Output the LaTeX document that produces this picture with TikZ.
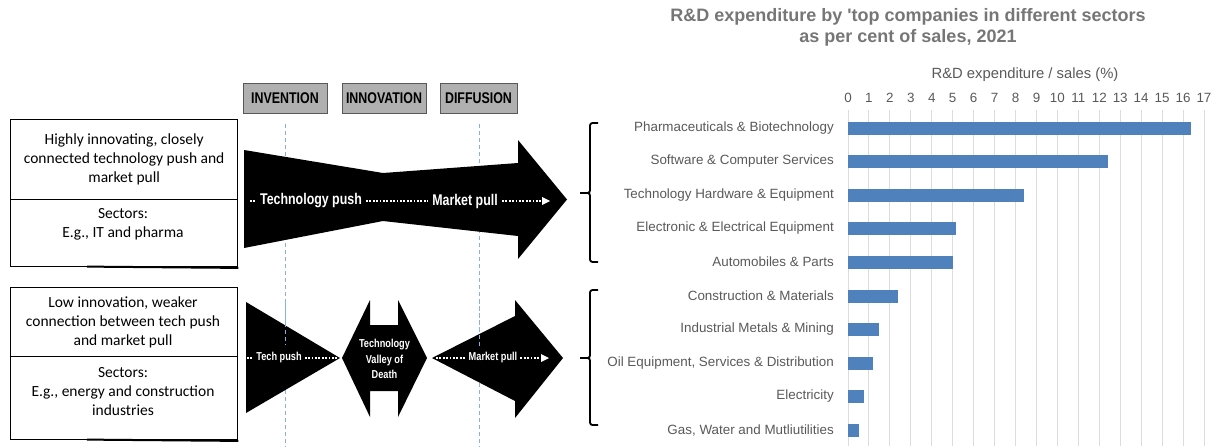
\documentclass[tikz,border=0pt]{standalone}
\usepackage{fontspec}
\setmainfont{Liberation Sans}
\newfontfamily\calib{Carlito}
\newfontfamily\arialnt{Liberation Sans}
\newfontfamily\narrowb[FakeStretch=0.8]{Liberation Sans}
\usetikzlibrary{arrows.meta}
\definecolor{barblue}{HTML}{4F81BD}
\definecolor{gridc}{HTML}{DCDCDC}
\definecolor{txtg}{HTML}{595959}
\definecolor{titleg}{HTML}{767676}
\definecolor{phasec}{HTML}{B0B0B0}
\definecolor{dashb}{HTML}{86B2E2}
\begin{document}
\begin{tikzpicture}[x=1pt,y=-1pt,
  textbox/.style={draw=black, line width=1.3pt, anchor=north west, inner sep=0pt, minimum width=227pt},
  boxtext/.style={align=center, font=\calib\fontsize{15.5}{19}\selectfont, inner sep=0pt},
  phasebox/.style={draw=black!65, fill=phasec, line width=0.8pt, minimum height=30pt, inner sep=0pt, font=\narrowb\bfseries\fontsize{15.5}{18}\selectfont},
  phaseline/.style={dashb, line width=1pt, dash pattern=on 4pt off 3pt},
  blk/.style={fill=black},
  arrtxt/.style={text=white, inner sep=4pt, font=\narrowb\bfseries\fontsize{15.5}{18}\selectfont},
  smalltxt/.style={text=white, inner sep=3pt, align=center, font=\narrowb\bfseries\fontsize{11.5}{15.5}\selectfont},
  wdot/.style={white, line width=1.8pt, dash pattern=on 1.8pt off 1.6pt},
  brace/.style={line width=1.8pt, rounded corners=2.5pt},
  lbl/.style={text=txtg, anchor=east, inner sep=0pt, font=\fontsize{13.4}{16}\selectfont},
  tick/.style={text=txtg, inner sep=0pt, font=\fontsize{13.4}{16}\selectfont},
]
\useasboundingbox (0,0) rectangle (1222,447);

% ---------- left text boxes ----------
\node[textbox, minimum height=80pt] (b1a) at (10,119) {};
\node[textbox, minimum height=67pt] (b1b) at (10,199) {};
\node[textbox, minimum height=69pt] (b2a) at (10,287) {};
\node[textbox, minimum height=83pt] (b2b) at (10,356) {};
\draw[line width=2pt] (87,266.6) -- ([yshift=-0.6pt]b1b.south east);
\draw[line width=2pt] (87,439.6) -- ([yshift=-0.6pt]b2b.south east);
\node[boxtext] (t1a) at (b1a.center) {Highly innovating, closely\\connected technology push and\\market pull};
\node[boxtext] (t1b) at (123,224.5) {Sectors:\\E.g., IT and pharma};
\node[boxtext] (t2a) at (123,322) {Low innovation, weaker\\connection between tech push\\and market pull};
\node[boxtext] (t2b) at (123,392) {Sectors:\\E.g., energy and construction\\industries};

% ---------- phase boxes ----------
\node[phasebox, minimum width=84pt] (inv) at (285,98) {INVENTION};
\node[phasebox, minimum width=84pt] (inn) at (384,98) {INNOVATION};
\node[phasebox, minimum width=77pt] (dif) at (478.5,98) {DIFFUSION};

\coordinate (d1top) at (285,124);
\coordinate (d1bot) at (285,447);
\coordinate (d2top) at (479,124);
\coordinate (d2bot) at (479,447);
\draw[phaseline] (d1top) -- (d1bot);
\draw[phaseline] (d2top) -- (d2bot);

% ---------- top arrow ----------
\fill[blk] (244,150) -- (383,173) -- (518,163) -- (518,140) -- (567,199.5)
  -- (518,259) -- (518,236) -- (383,221) -- (244,248) -- cycle;
\node[arrtxt] (tp) at (311,201) {Technology push};
\node[arrtxt] (mp) at (465,201) {Market pull};
\coordinate (tps) at (250,201);
\coordinate (mpe) at (550,201);
\draw[wdot] (tps) -- (tp.west);
\draw[wdot] (tp.east) -- (mp.west);
\draw[wdot] (mp.east) -- ([xshift=-6pt]mpe);
\fill[white] (mpe) -- ++(-8,-4) -- ++(0,8) -- cycle;

% ---------- bottom shapes ----------
\fill[blk] (246,302) -- (340,358) -- (246,413) -- cycle;
\fill[blk] (342,358) -- (370,300) -- (370,325) -- (398,325) -- (398,300) -- (427,358)
  -- (398,417) -- (398,391) -- (370,391) -- (370,417) -- cycle;
\fill[blk] (432,358) -- (515,316) -- (515,300) -- (563,358) -- (515,418) -- (515,401) -- cycle;
\draw[phaseline] (285,302) -- (285,345);
\draw[phaseline] (479,300) -- (479,347);
\node[smalltxt] (tp2) at (279,358) {Tech push};
\node[smalltxt] (vd) at (384.5,359) {Technology\\Valley of\\Death};
\node[smalltxt] (mp2) at (493,358) {Market pull};
\coordinate (tp2s) at (247,358);
\coordinate (tp2e) at (338,358);
\coordinate (mp2s) at (436,358);
\coordinate (mp2e) at (549,358);
\draw[wdot] (tp2s) -- (tp2.west);
\draw[wdot] (tp2.east) -- (tp2e);
\draw[wdot] (mp2s) -- (mp2.west);
\draw[wdot] (mp2.east) -- ([xshift=-6pt]mp2e);
\fill[white] (mp2e) -- ++(-8,-4) -- ++(0,8) -- cycle;

% ---------- braces ----------
\draw[brace] (598,123) -- (590,123) -- (590,193) -- (580,193);
\draw[brace] (580,193) -- (590,193) -- (590,262) -- (598,262);
\draw[brace] (598,290) -- (590,290) -- (590,358) -- (580,358);
\draw[brace] (580,358) -- (590,358) -- (590,425) -- (598,425);

% ---------- chart ----------
\node[text=titleg, align=center, inner sep=0pt, font=\arialnt\bfseries\fontsize{18}{21}\selectfont] (title) at (908,27)
  {R\&D expenditure by 'top companies in different sectors\\as per cent of sales, 2021};
\node[text=txtg, inner sep=0pt, font=\fontsize{14.8}{17}\selectfont] (axt) at (1025,75) {R\&D expenditure / sales (\%)};
\foreach \i in {0,...,17} {
  \draw[gridc, line width=1pt] (848+20.94*\i,110) -- (848+20.94*\i,446);
  \node[tick] (tk\i) at (848+20.94*\i,98) {\i};
}
\foreach \v/\yy/\nm [count=\k] in {
  16.38/128/Pharmaceuticals \& Biotechnology,
  12.4/161.5/Software \& Computer Services,
  8.4/195/Technology Hardware \& Equipment,
  5.15/228.5/Electronic \& Electrical Equipment,
  5.0/262/Automobiles \& Parts,
  2.39/296/Construction \& Materials,
  1.48/329.5/Industrial Metals \& Mining,
  1.2/363/{Oil Equipment, Services \& Distribution},
  0.76/396.5/Electricity,
  0.53/430/{Gas, Water and Mutliutilities}} {
  \fill[barblue] (848,\yy-6.5) rectangle (848+20.94*\v,\yy+6.5);
  \node[lbl] (lab\k) at (834,\yy) {\nm};
}
\end{tikzpicture}
\end{document}
